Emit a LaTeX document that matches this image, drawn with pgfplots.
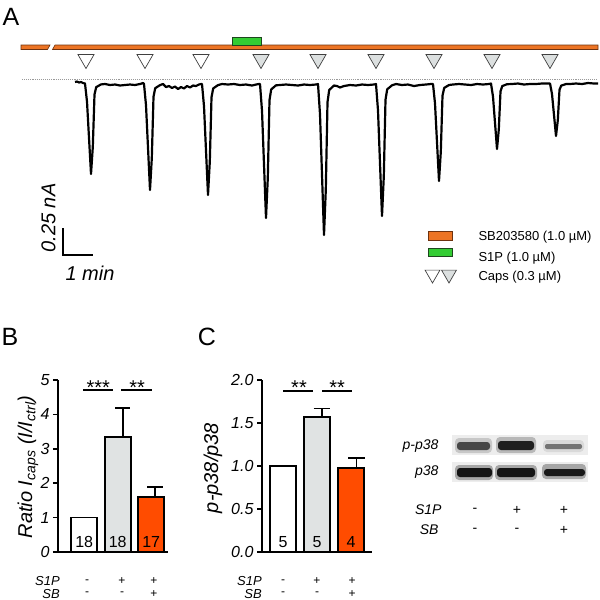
\documentclass[border=0pt]{standalone}
\usepackage{pgfplots}
\pgfplotsset{compat=1.18}
\usepackage{fontspec}
\setmainfont{Liberation Sans}
\definecolor{sborange}{RGB}{236,116,36}
\definecolor{sbdark}{RGB}{110,50,15}
\definecolor{s1pgreen}{RGB}{51,204,51}
\definecolor{s1pdark}{RGB}{30,70,30}
\definecolor{capsgray}{RGB}{220,224,224}
\definecolor{bargray}{RGB}{224,227,227}
\definecolor{barred}{RGB}{255,76,0}
\newcommand{\fs}[1]{\fontsize{#1}{#1}\selectfont}
\begin{document}
\begin{tikzpicture}
\path[use as bounding box] (0,0) rectangle (600bp,-600bp);
% ---------------- canvas (pixel coordinates, y downward) ----------------
\begin{axis}[at={(300bp,-300bp)}, anchor=center, scale only axis,
  width=600bp, height=600bp, xmin=0, xmax=600, ymin=0, ymax=600,
  y dir=reverse, hide axis, clip=false]
% SB203580 application bar (with break)
\addplot[fill=sborange, draw=sbdark, line width=0.6bp] coordinates {(21,45)(50,45)(47.5,49.5)(21,49.5)} --cycle;
\addplot[fill=sborange, draw=sbdark, line width=0.6bp] coordinates {(55,45)(598,45)(598,49.5)(52.5,49.5)} --cycle;
% S1P application
\addplot[fill=s1pgreen, draw=s1pdark, line width=0.6bp] coordinates {(232,37)(261,37)(261,45)(232,45)} --cycle;
% capsaicin applications
\addplot[only marks, mark=triangle*, mark size=9.3bp, mark options={rotate=180, fill=white, draw=black!75, line width=0.7bp}] coordinates {(86,59.2)(145,59.2)(201,59.2)};
\addplot[only marks, mark=triangle*, mark size=9.3bp, mark options={rotate=180, fill=capsgray, draw=black!75, line width=0.7bp}] coordinates {(261,59.2)(318,59.2)(376,59.2)(434,59.2)(492,59.2)(550,59.2)};
% zero-current reference line
\addplot[black!40, line width=1.1bp, densely dotted] coordinates {(22,79.5)(598,79.5)};
% current trace
\addplot[black, line width=2.2bp, line join=round] coordinates {
(75,82)(77,81.5)(79,82.5)(81,82)(83,83)
(85,83.5)(87,101.6)(89,137.8)(91,174)(92.8,146.9)(94.5,94.4)(96.2,87.1)(101,84.4)
(105,84)(110,85)(115,84.5)(120,85.5)(125,85)(130,84.5)(135,85)(140,84)(143,83)
(144,84)(146,105.2)(148,147.6)(150,190)(151.8,158.2)(153.5,96.7)(155.2,88.2)(160,85.1)
(163,84)(166,87)(169,86)(172,88)(175,86.5)(178,89)(181,87)(184,88.5)(187,86)(190,87.5)(193,85.5)(196,86)(199,84.5)(201,84)
(202,84)(204,106.2)(206,150.6)(208,195)(209.8,161.7)(211.5,97.3)(213.2,88.4)(218,85.1)
(222,84)(228,84.5)(234,84)(240,85)(246,84.5)(252,85.5)(256,84.5)(259,84)
(260,84)(262,110.8)(264,164.4)(266,218)(267.8,177.8)(269.5,100.1)(271.2,89.4)(276,85.3)
(280,85)(286,84.5)(292,85)(298,85.5)(304,84.5)(310,85)(316,84.5)
(318,84)(320,114.2)(322,174.6)(324,235)(325.8,189.7)(327.5,102.1)(329.2,90)(334,85.5)
(337,86)(340,87.5)(344,86)(350,85)(356,85.5)(362,84.5)(368,85)(374,84.5)
(376,84)(378,110.4)(380,163.2)(382,216)(383.8,176.4)(385.5,99.8)(387.2,89.3)(392,85.3)
(396,84)(402,85)(408,84.5)(414,86)(420,85)(426,84.5)(431,84)
(433,84)(435,103.4)(437,142.2)(439,181)(440.8,151.9)(442.5,95.6)(444.2,87.9)(449,85)
(453,84.5)(459,84)(465,84.5)(471,85)(477,84)(483,84.5)(489,84)
(491,83.5)(493,96.6)(495,122.8)(497,149)(498.8,129.4)(500.5,91.4)(502.2,86.1)(507,84.2)
(512,84)(518,83.5)(524,84.5)(530,84)(536,84)(542,83.5)(548,83.5)
(550,83.5)(552,94)(554,115)(556,136)(557.8,120.3)(559.5,89.8)(561.2,85.6)(566,84)
(570,84)(576,83.5)(582,84)(588,83)(594,83.5)(598,83.5)};
% scale bar
\addplot[black, line width=2.6bp] coordinates {(63,228)(63,255)(93,255)};
\node[font=\fs{20bp}\itshape] at (axis cs:90,273.5) {1 min};
\node[font=\fs{20bp}\itshape, rotate=90] at (axis cs:48.5,218) {0.25 nA};
% legend of panel A
\addplot[fill=sborange, draw=sbdark, line width=0.6bp] coordinates {(428,231.5)(452,231.5)(452,240)(428,240)} --cycle;
\addplot[fill=s1pgreen, draw=s1pdark, line width=0.6bp] coordinates {(428,248)(452,248)(452,256.5)(428,256.5)} --cycle;
\addplot[only marks, mark=triangle*, mark size=8.6bp, mark options={rotate=180, fill=white, draw=black!75, line width=0.7bp}] coordinates {(432.5,274.4)};
\addplot[only marks, mark=triangle*, mark size=8.6bp, mark options={rotate=180, fill=capsgray, draw=black!75, line width=0.7bp}] coordinates {(449,274.4)};
\node[font=\fs{13bp}, anchor=west] at (axis cs:475,237) {SB203580 (1.0 µM)};
\node[font=\fs{13bp}, anchor=west] at (axis cs:475,258) {S1P (1.0 µM)};
\node[font=\fs{13bp}, anchor=west] at (axis cs:475,277) {Caps (0.3 µM)};
% panel letters
\node[font=\fs{25bp}] at (axis cs:11,17) {A};
\node[font=\fs{25bp}] at (axis cs:10,336.5) {B};
\node[font=\fs{25bp}] at (axis cs:207,336.5) {C};
% axis titles of B and C
\node[font=\fs{20bp}\itshape, rotate=90] at (axis cs:28,467) {Ratio I\textsubscript{caps} (I/I\textsubscript{ctrl})};
\node[font=\fs{20bp}\itshape, rotate=90] at (axis cs:213,468) {p-p38/p38};
% treatment rows of B
\begin{scope}[every node/.style={inner sep=0pt, font=\fs{12bp}}]
\node[font=\fs{13bp}\itshape, anchor=east] at (axis cs:60,581.5) {S1P};
\node[font=\fs{13bp}\itshape, anchor=east] at (axis cs:60,594) {SB};
\node at (axis cs:87,581.5) {-};
\node at (axis cs:122,581.5) {+};
\node at (axis cs:154,581.5) {+};
\node at (axis cs:87,594) {-};
\node at (axis cs:122,594) {-};
\node at (axis cs:154,594) {+};
% treatment rows of C
\node[font=\fs{13bp}\itshape, anchor=east] at (axis cs:262,581.5) {S1P};
\node[font=\fs{13bp}\itshape, anchor=east] at (axis cs:262,594) {SB};
\node at (axis cs:283,581.5) {-};
\node at (axis cs:317,581.5) {+};
\node at (axis cs:352,581.5) {+};
\node at (axis cs:283,594) {-};
\node at (axis cs:317,594) {-};
\node at (axis cs:352,594) {+};
\end{scope}
% western blot
\fill[black!7] (axis cs:452,435) rectangle (axis cs:588,455);
\fill[black!7] (axis cs:452,462) rectangle (axis cs:588,482);
\fill[black!22, rounded corners=4bp] (axis cs:455,438) rectangle (axis cs:492,453);
\fill[black!28, rounded corners=4bp] (axis cs:496,437) rectangle (axis cs:536,453);
\fill[black!15, rounded corners=4bp] (axis cs:543,440) rectangle (axis cs:584,452);
\fill[black!72, rounded corners=3bp] (axis cs:457,442) rectangle (axis cs:490,450);
\fill[black!88, rounded corners=3bp] (axis cs:498,441) rectangle (axis cs:534,450);
\fill[black!55, rounded corners=2bp] (axis cs:545,444) rectangle (axis cs:582,449);
\fill[black!35, rounded corners=4bp] (axis cs:455,465) rectangle (axis cs:493,480);
\fill[black!35, rounded corners=4bp] (axis cs:495,465) rectangle (axis cs:537,480);
\fill[black!35, rounded corners=4bp] (axis cs:542,464) rectangle (axis cs:586,479);
\fill[black!92, rounded corners=3bp] (axis cs:457,468) rectangle (axis cs:492,477);
\fill[black!92, rounded corners=3bp] (axis cs:497,468) rectangle (axis cs:535,477);
\fill[black!90, rounded corners=3bp] (axis cs:544,469) rectangle (axis cs:585,476);
\node[font=\fs{14bp}\itshape, anchor=east] at (axis cs:442,446.5) {p-p38};
\node[font=\fs{14bp}\itshape, anchor=east] at (axis cs:442,472) {p38};
\node[font=\fs{14bp}\itshape, anchor=east] at (axis cs:445,510) {S1P};
\node[font=\fs{14bp}\itshape, anchor=east] at (axis cs:442,530) {SB};
\node[font=\fs{14bp}] at (axis cs:475,510) {-};
\node[font=\fs{14bp}] at (axis cs:517,510) {+};
\node[font=\fs{14bp}] at (axis cs:564,510) {+};
\node[font=\fs{14bp}] at (axis cs:475,530) {-};
\node[font=\fs{14bp}] at (axis cs:517,530) {-};
\node[font=\fs{14bp}] at (axis cs:564,530) {+};
\end{axis}
% ---------------- panel B ----------------
\begin{axis}[at={(58bp,-552bp)}, anchor=south west, scale only axis,
  width=110bp, height=172bp, xmin=-0.78, xmax=2.5, ymin=0, ymax=5,
  axis x line*=bottom, axis y line*=left,
  axis line style={line width=1.7bp, -},
  xtick=\empty, ytick={0,1,2,3,4,5}, yticklabels={0,1,2,3,4,5},
  tick align=outside, major tick length=5bp,
  every tick/.style={line width=1.7bp, black},
  yticklabel style={font=\fs{16bp}\itshape},
  clip=false]
\addplot[ybar, bar width=26bp, bar shift=0pt, fill=white, draw=black, line width=1.7bp] coordinates {(0,1.0)};
\addplot[ybar, bar width=26bp, bar shift=0pt, fill=bargray, draw=black, line width=1.7bp] coordinates {(1,3.35)};
\addplot[ybar, bar width=26bp, bar shift=0pt, fill=barred, draw=black, line width=1.7bp] coordinates {(2,1.6)};
% SEM
\addplot[black, line width=1.7bp] coordinates {(1.15,3.35)(1.15,4.19)};
\addplot[black, line width=1.7bp] coordinates {(0.93,4.19)(1.37,4.19)};
\addplot[black, line width=1.7bp] coordinates {(2.12,1.6)(2.12,1.89)};
\addplot[black, line width=1.7bp] coordinates {(1.88,1.89)(2.36,1.89)};
% n
\node[font=\fs{16bp}] at (axis cs:0,0.29) {18};
\node[font=\fs{16bp}] at (axis cs:1,0.29) {18};
\node[font=\fs{16bp}] at (axis cs:2,0.29) {17};
% significance
\draw[line width=1.7bp] (axis cs:-0.03,4.71) -- (axis cs:0.87,4.71);
\draw[line width=1.7bp] (axis cs:1.10,4.71) -- (axis cs:2.03,4.71);
\node[font=\fs{20bp}, anchor=base] at (axis cs:0.42,4.59) {***};
\node[font=\fs{20bp}, anchor=base] at (axis cs:1.58,4.59) {**};
\end{axis}
% ---------------- panel C ----------------
\begin{axis}[at={(262bp,-552bp)}, anchor=south west, scale only axis,
  width=110bp, height=172bp, xmin=-0.62, xmax=2.62, ymin=0, ymax=2,
  axis x line*=bottom, axis y line*=left,
  axis line style={line width=1.7bp, -},
  xtick=\empty, ytick={0,0.5,1,1.5,2}, yticklabels={0.0,0.5,1.0,1.5,2.0},
  tick align=outside, major tick length=5bp,
  every tick/.style={line width=1.7bp, black},
  yticklabel style={font=\fs{16bp}\itshape},
  clip=false]
\addplot[ybar, bar width=26bp, bar shift=0pt, fill=white, draw=black, line width=1.7bp] coordinates {(0,1.0)};
\addplot[ybar, bar width=26bp, bar shift=0pt, fill=bargray, draw=black, line width=1.7bp] coordinates {(1,1.57)};
\addplot[ybar, bar width=26bp, bar shift=0pt, fill=barred, draw=black, line width=1.7bp] coordinates {(2,0.98)};
% SEM
\addplot[black, line width=1.7bp] coordinates {(1.14,1.57)(1.14,1.67)};
\addplot[black, line width=1.7bp] coordinates {(0.90,1.67)(1.38,1.67)};
\addplot[black, line width=1.7bp] coordinates {(2.16,0.98)(2.16,1.09)};
\addplot[black, line width=1.7bp] coordinates {(1.92,1.09)(2.40,1.09)};
% n
\node[font=\fs{16bp}] at (axis cs:0,0.116) {5};
\node[font=\fs{16bp}] at (axis cs:1,0.116) {5};
\node[font=\fs{16bp}] at (axis cs:2,0.116) {4};
% significance
\draw[line width=1.7bp] (axis cs:0,1.872) -- (axis cs:0.88,1.872);
\draw[line width=1.7bp] (axis cs:1.15,1.872) -- (axis cs:2.03,1.872);
\node[font=\fs{20bp}, anchor=base] at (axis cs:0.47,1.837) {**};
\node[font=\fs{20bp}, anchor=base] at (axis cs:1.59,1.837) {**};
\end{axis}
\end{tikzpicture}
\end{document}
